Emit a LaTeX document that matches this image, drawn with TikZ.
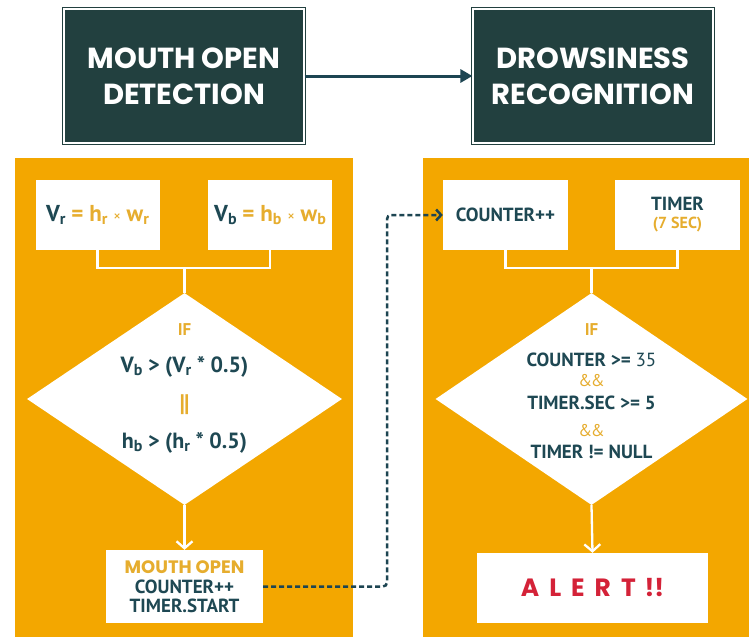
\documentclass[tikz,border=0pt]{standalone}
\usepackage{fontspec}
\setmainfont{PT Sans}
\newfontfamily\headfont{Poppins}
\usetikzlibrary{arrows.meta,shapes.geometric,calc}
\definecolor{darkbox}{HTML}{22403F}
\definecolor{tealtxt}{HTML}{1E4853}
\definecolor{orng}{HTML}{F3A700}
\definecolor{goldtxt}{HTML}{E6AD2E}
\definecolor{alertred}{HTML}{D42238}
\definecolor{arrteal}{HTML}{1D4552}
\newcommand{\lowsub}[1]{\raisebox{-0.3ex}{\fontsize{16}{16}\selectfont #1}}
\begin{document}
\begin{tikzpicture}[x=1pt,y=-1pt,
  topbox/.style={fill=darkbox, draw=darkbox, double=white, double distance=1.6pt, line width=1.2pt,
    minimum width=240pt, minimum height=134pt, inner sep=0pt, align=center,
    text=white, font=\headfont\bfseries\fontsize{29}{36}\selectfont},
  panel/.style={fill=orng, draw=none},
  wbox/.style={fill=white, draw=none, inner sep=0pt, align=center, text=tealtxt,
    font=\bfseries\fontsize{19}{20}\selectfont},
  decision/.style={diamond, fill=white, draw=none, inner sep=0pt},
  dtext/.style={inner sep=0pt, text=tealtxt, font=\bfseries\fontsize{22}{22}\selectfont},
  rtext/.style={inner sep=0pt, text=tealtxt, font=\bfseries\fontsize{19}{20}\selectfont},
  gtext/.style={inner sep=0pt, text=goldtxt, font=\bfseries\fontsize{17}{18}\selectfont},
  wline/.style={draw=white, line width=2.3pt},
  warrow/.style={wline, -{Straight Barb[length=7pt,width=16pt]}},
  toparrow/.style={draw=arrteal, line width=3pt, -{Triangle[length=12pt,width=13pt]}},
  dashlink/.style={draw=arrteal, line width=2.5pt, dash pattern=on 5pt off 3pt, rounded corners=4pt,
    -{Straight Barb[length=5pt,width=11pt]}}
]
\useasboundingbox (0,0) rectangle (749,637);
\fill[white] (0,0) rectangle (749,637);

% top boxes
\node[topbox] (mod) at (184,76) {MOUTH OPEN\\DETECTION};
\node[topbox] (drw) at (593,76) {DROWSINESS\\RECOGNITION};
\draw[toparrow] (mod.east) -- (drw.west);

% panels
\fill[panel] (15,158) rectangle (353,637);
\fill[panel] (423,158) rectangle (749,637);

% left panel
\node[wbox, minimum width=124pt, minimum height=70pt, font=\bfseries\fontsize{23}{24}\selectfont] (vr) at (97.5,215)
  {\textcolor{tealtxt}{V\lowsub{r}} \textcolor{goldtxt}{= h\lowsub{r} {\mdseries\fontsize{15}{15}\selectfont ×} w\lowsub{r}}};
\node[wbox, minimum width=124pt, minimum height=70pt, font=\bfseries\fontsize{23}{24}\selectfont] (vb) at (270,215)
  {\textcolor{tealtxt}{V\lowsub{b}} \textcolor{goldtxt}{= h\lowsub{b} {\mdseries\fontsize{15}{15}\selectfont ×} w\lowsub{b}}};
\node[decision, minimum width=315pt, minimum height=212pt] (dl) at (184.5,399) {};
\coordinate (jl) at (184.5,268);
\draw[wline] (vr.south) |- (jl) -| (vb.south);
\draw[wline] (jl) -- (dl.north);
\node[gtext] (ifl) at (184.5,330) {IF};
\node[dtext] (c1) at (184.5,367) {V\lowsub{b} > (V\lowsub{r} * 0.5)};
\node[gtext, font=\bfseries\fontsize{24}{24}\selectfont] (orl) at (184.5,405) {|\kern-1pt|};
\node[dtext] (c2) at (184.5,443) {h\lowsub{b} > (h\lowsub{r} * 0.5)};
\node[wbox, minimum width=157pt, minimum height=73pt, font=\bfseries\fontsize{19}{19}\selectfont] (mo) at (184.5,586.5)
  {{\headfont\bfseries\fontsize{18}{18}\selectfont\color{goldtxt}MOUTH OPEN}\\[1pt]COUNTER++\\TIMER.START};
\draw[warrow] (dl.south) -- (mo.north);

% right panel
\node[wbox, minimum width=125pt, minimum height=70pt] (ctr) at (505.5,215) {COUNTER++};
\node[wbox, minimum width=125pt, minimum height=70pt] (tmr) at (677.5,215)
  {TIMER\\[-2pt]{\color{goldtxt}\fontsize{16}{16}\selectfont (7 SEC)}};
\node[decision, minimum width=312pt, minimum height=212pt] (dr) at (591.5,399) {};
\coordinate (jr) at (591.5,268);
\draw[wline] (ctr.south) |- (jr) -| (tmr.south);
\draw[wline] (jr) -- (dr.north);
\node[gtext] (ifr) at (591.5,330) {IF};
\node[rtext] (r1) at (591.5,360) {COUNTER >= {\mdseries 35}};
\node[gtext, font=\mdseries\fontsize{17}{18}\selectfont] (a1) at (591.5,381) {\&\kern-1.5pt\&};
\node[rtext] (r2) at (591.5,403) {TIMER.SEC >= 5};
\node[gtext, font=\mdseries\fontsize{17}{18}\selectfont] (a2) at (591.5,431) {\&\kern-1.5pt\&};
\node[rtext] (r3) at (591.5,452) {TIMER != NULL};
\node[wbox, minimum width=231pt, minimum height=70pt, text=alertred,
  font=\headfont\bfseries\fontsize{25}{25}\selectfont] (alert) at (592.5,588)
  {A\hspace{0.4em}L\hspace{0.4em}E\hspace{0.4em}R\hspace{0.4em}T\hspace{0.35em}!!};
\draw[warrow] (dr.south) -- (alert.north);

% dashed link
\coordinate (bend) at (387,215);
\draw[dashlink] (mo.east) -| (bend) -- (ctr.west);
\end{tikzpicture}
\end{document}
